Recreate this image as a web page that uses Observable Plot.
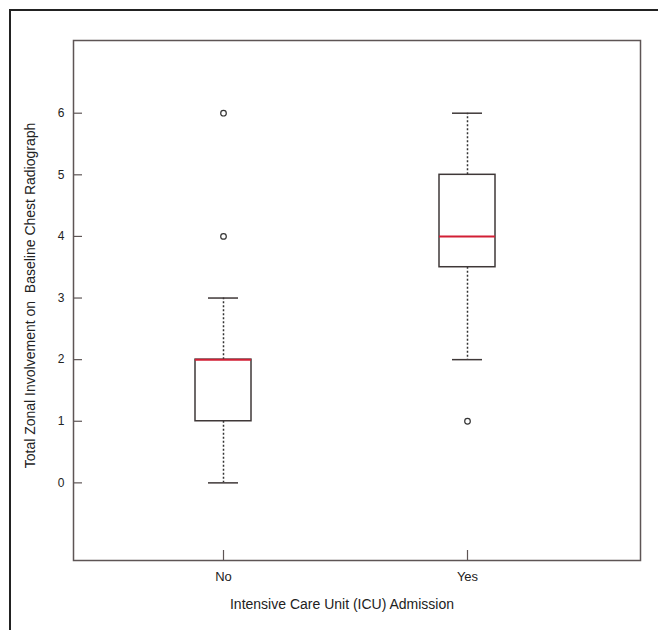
<!DOCTYPE html>
<html>
<head>
<meta charset="utf-8">
<script src="https://cdn.jsdelivr.net/npm/d3@7"></script>
<script src="https://cdn.jsdelivr.net/npm/@observablehq/plot@0.6"></script>
<style>
  html, body { margin: 0; padding: 0; background: #fff; }
  #wrap { position: relative; width: 658px; height: 630px; overflow: hidden; }
  #border { position: absolute; left: 9px; top: 9px; right: 0; bottom: 0;
            border-top: 2px solid #222; border-left: 2px solid #222; }
  #chart { position: absolute; left: 0; top: 0; }
</style>
</head>
<body>
<div id="wrap"><div id="border"></div><div id="chart"></div></div>
<script>
// Data
const groups = ["No", "Yes"];
const q1 = [1, 3.5];
const median = [2, 4];
const q3 = [2, 5];
const whiskerLow = [0, 2];
const whiskerHigh = [3, 6];
const outlierGroup = ["No", "No", "Yes"];
const outlierValue = [4, 6, 1];
const yTicks = [0, 1, 2, 3, 4, 5, 6];
const xTitle = "Intensive Care Unit (ICU) Admission";
const yTitle = "Total Zonal Involvement on  Baseline Chest Radiograph";

const stats = groups.map((g, i) => ({
  group: g, q1: q1[i], median: median[i], q3: q3[i], lo: whiskerLow[i], hi: whiskerHigh[i]
}));
const outliers = outlierGroup.map((g, i) => ({group: g, value: outlierValue[i]}));

const boxStroke = "#3f3838";
const chart = Plot.plot({
  width: 658,
  height: 630,
  marginLeft: 73,
  marginRight: 18,
  marginTop: 40,
  marginBottom: 70,
  style: {fontFamily: "'Liberation Sans', Arial, sans-serif", color: "#222", background: "transparent", overflow: "visible"},
  x: {type: "band", domain: groups, range: [195, 495], paddingInner: 0.7705, paddingOuter: 0, align: 0.5},
  y: {domain: [-1.26, 7.18]},
  marks: [
    // whiskers
    Plot.ruleX(stats, {x: "group", y1: "q3", y2: "hi", stroke: "#333", strokeWidth: 1.5, strokeDasharray: "2,2"}),
    Plot.ruleX(stats, {x: "group", y1: "q1", y2: "lo", stroke: "#333", strokeWidth: 1.5, strokeDasharray: "2,2"}),
    // caps
    Plot.tickY(stats, {x: "group", y: "hi", stroke: boxStroke, strokeWidth: 1.5, insetLeft: 13, insetRight: 13}),
    Plot.tickY(stats, {x: "group", y: "lo", stroke: boxStroke, strokeWidth: 1.5, insetLeft: 13, insetRight: 13}),
    // boxes
    Plot.barY(stats, {x: "group", y1: "q1", y2: "q3", fill: "white", stroke: boxStroke, strokeWidth: 1.5}),
    // medians
    Plot.tickY(stats, {x: "group", y: "median", stroke: "#d21f35", strokeWidth: 2}),
    // outliers
    Plot.dot(outliers, {x: "group", y: "value", r: 2.8, stroke: "#333", strokeWidth: 1.2, fill: "none"}),
    // inward ticks
    Plot.tickY(yTicks, {y: d => d, stroke: "#5e5555", strokeWidth: 1.2, insetRight: 558}),
    Plot.tickX(groups, {x: d => d, stroke: "#5e5555", strokeWidth: 1.2, insetTop: 510}),
    // axes labels
    Plot.axisY(yTicks, {tickSize: 0, tickPadding: 9, fontSize: 12, tickFormat: d3.format("d"), label: null}),
    Plot.axisX({tickSize: 0, tickPadding: 11, fontSize: 13, label: null}),
    // titles
    Plot.text([xTitle], {text: d => d, frameAnchor: "bottom", dy: 48, dx: -15, fontSize: 14, fill: "#222", textAnchor: "middle"}),
    Plot.text([yTitle], {text: d => d, frameAnchor: "left", rotate: -90, dx: -43, dy: -5, fontSize: 14, fill: "#222", textAnchor: "middle"}),
    // frame
    Plot.frame({stroke: "#5e5555", strokeWidth: 1.5})
  ]
});
document.getElementById("chart").appendChild(chart);
</script>
</body>
</html>
